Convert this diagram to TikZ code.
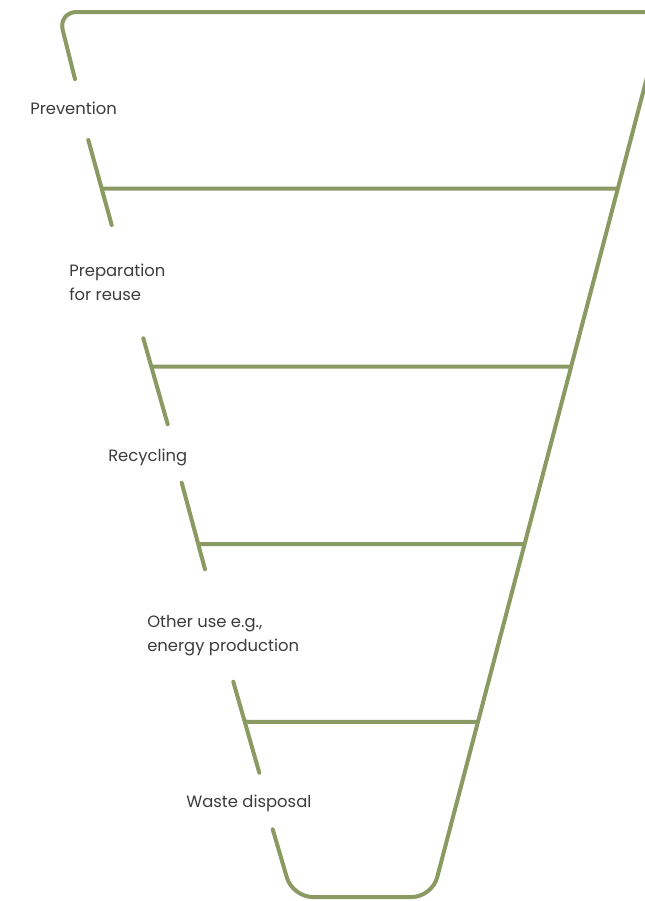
\documentclass[tikz,border=0pt]{standalone}
\usepackage{fontspec}
\setmainfont{Poppins}
\usepackage{tikz}
\usetikzlibrary{positioning}
\definecolor{funnelgreen}{RGB}{138,154,98}
\definecolor{tiertext}{RGB}{60,60,60}

\begin{document}
\begin{tikzpicture}[x=0.75pt,y=-0.75pt,
	edge/.style={draw=funnelgreen,line width=3pt,line cap=round},
	tier/.style={anchor=west,align=left,text=tiertext,inner sep=0pt,font=\fontsize{12.3}{18}\selectfont}]
	\useasboundingbox (0,0) rectangle (645,901);
	\clip (0,0) rectangle (645,901);
	% left hand ticks and right hand side
	\coordinate (t1a) at (88.3,140);	\coordinate (t1b) at (111.7,225);
	\coordinate (t2a) at (143.3,338.3);	\coordinate (t2b) at (167.7,424.3);
	\coordinate (t3a) at (181.7,482.7);	\coordinate (t3b) at (205,569.3);
	\coordinate (t4a) at (233.3,681.7);	\coordinate (t4b) at (259.3,772.7);
	\coordinate (r0) at (667.3,0);		\coordinate (r1) at (432,897);
	% funnel outline
	\draw[edge,rounded corners=14] (75,79) -- (58.2,12) -- (700,12);
	\draw[edge,rounded corners=15] (272.7,829.3) -- (292.6,897) -- (r1) -- (r0);
	\foreach \i/\y in {1/188.5,2/366.7,3/544,4/721.7} {
		\draw[edge] (t\i a) -- (t\i b);
		\draw[edge,line cap=butt] (intersection of t\i a--t\i b and 0,\y--1,\y) -- (intersection of r0--r1 and 0,\y--1,\y);
	}
	% labels
	\node[tier] (prev)	at (30,108.5)	{Prevention};
	\node[tier] (prep)	at (69,282)		{Preparation\\for reuse};
	\node[tier] (recy)	at (108,457)	{Recycling};
	\node[tier] (other)	at (147,636)	{Other use e.g.,\\energy production};
	\node[tier] (waste)	at (186,803)	{Waste disposal};
\end{tikzpicture}
\end{document}
